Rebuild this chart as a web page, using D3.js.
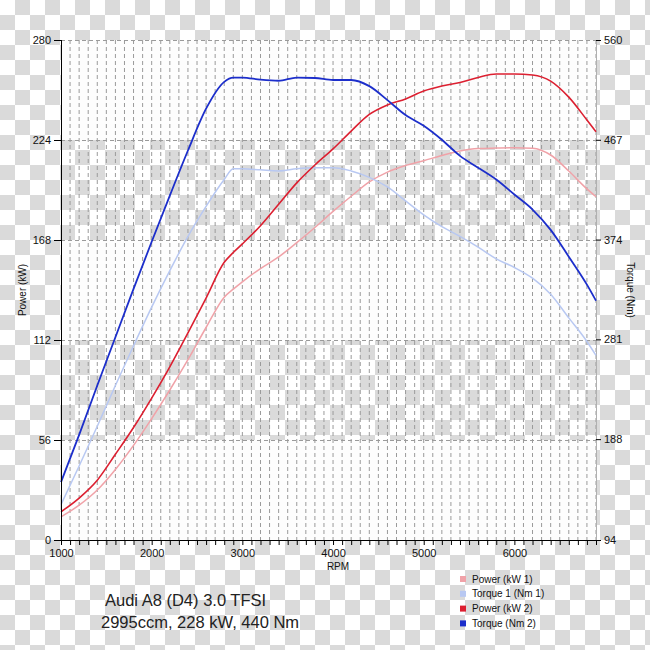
<!DOCTYPE html>
<html>
<head>
<meta charset="utf-8">
<script src="https://cdn.jsdelivr.net/npm/d3@7"></script>
<style>
html,body{margin:0;padding:0;background:#fff;}
svg{display:block;font-family:"Liberation Sans",Arial,sans-serif;}
</style>
</head>
<body>
<svg id="chart" width="650" height="650"></svg>
<script>
const rpm = [1000,1200,1400,1600,1800,2000,2200,2400,2600,2800,2900,3000,3200,3400,3600,3800,4000,4200,4400,4600,4800,5000,5200,5400,5600,5800,6000,6200,6400,6600,6800,6900];
const power1 = [13,19.5,28,39.5,53,68,84,101,119,136,140.5,144.6,152,158.5,166.5,175,184,192.5,200.5,206,209.7,212.4,215.3,217.8,219.2,219.5,219.7,219.4,215.6,206.6,196.6,192.2];
const torque1 = [127,163,200,238,275,311,345,377,405,430,440,440,439,438,440,441,441,438,432,423,410,397,386,377,367,356,348,338,323,301,279,266];
const power2 = [15.8,23.5,33.5,48,63,79.5,97,116,135.5,155.5,161,165.8,176,188,200,210,219,229,238.3,243.6,247,251.4,254.2,256.2,259,261,261,260.4,257,248,235.2,228.6];
const torque2 = [148,192,238,283,328,372,415,457,496,521,525,525,523,522,525,524.6,522.7,522.7,517,504,490,480,467,452,441,430,416,402,383,358,332,317];

const powerTicks = [0,56,112,168,224,280];
const torqueTicks = [94,188,281,374,467,560];
const rpmTicks = [1000,2000,3000,4000,5000,6000];
const legendLabels = ["Power (kW 1)","Torque 1 (Nm 1)","Power (kW 2)","Torque (Nm 2)"];
const titleLines = ["Audi A8 (D4) 3.0 TFSI","2995ccm, 228 kW, 440 Nm"];

const colors = ["#f0a2a8","#b8c8f2","#dc1f30","#1c2ecb"];

const svg = d3.select("#chart");
const L = 61, R = 596, T = 40, B = 540;

// checkerboard background
const defs = svg.append("defs");
const pat = defs.append("pattern").attr("id","checker").attr("patternUnits","userSpaceOnUse")
  .attr("width",30).attr("height",30);
pat.append("rect").attr("width",30).attr("height",30).attr("fill","#ffffff");
pat.append("rect").attr("x",15).attr("y",0).attr("width",15).attr("height",15).attr("fill","#dadada");
pat.append("rect").attr("x",0).attr("y",15).attr("width",15).attr("height",15).attr("fill","#dadada");
svg.append("rect").attr("width",650).attr("height",650).attr("fill","url(#checker)");

const x = d3.scaleLinear().domain([1000,6900]).range([L,R]);
const yP = d3.scaleLinear().domain([0,280]).range([B,T]);
const yT = d3.scaleLinear().domain([94,560]).range([B,T]);

// white bands
[[224,280],[112,168],[0,56]].forEach(b=>{
  svg.append("rect").attr("x",L).attr("y",yP(b[1])).attr("width",R-L).attr("height",yP(b[0])-yP(b[1]))
    .attr("fill","#fdfdfd");
});

// vertical grid every 100 rpm
const vg = d3.range(1100,6901,100);
svg.append("g").selectAll("line").data(vg).join("line")
  .attr("x1",d=>x(d)).attr("x2",d=>x(d)).attr("y1",T).attr("y2",B)
  .attr("stroke","#9a9a9a").attr("stroke-width",1).attr("stroke-dasharray","4,3");
// horizontal grid
svg.append("g").selectAll("line").data(powerTicks.filter(d=>d>0)).join("line")
  .attr("x1",L).attr("x2",R).attr("y1",d=>yP(d)+0.5).attr("y2",d=>yP(d)+0.5)
  .attr("stroke","#9a9a9a").attr("stroke-width",1).attr("stroke-dasharray","4,3");
// right border
svg.append("line").attr("x1",R+0.5).attr("x2",R+0.5).attr("y1",T).attr("y2",B).attr("stroke","#b0b0b0");

// lines
const series = [
  {vals:power1, y:yP, c:colors[0], w:1.5},
  {vals:torque1, y:yT, c:colors[1], w:1.5},
  {vals:power2, y:yP, c:colors[2], w:1.6},
  {vals:torque2, y:yT, c:colors[3], w:1.8}
];
series.forEach(s=>{
  const line = d3.line().x((d,i)=>x(rpm[i])).y(d=>s.y(d)).curve(d3.curveMonotoneX);
  svg.append("path").datum(s.vals).attr("d",line).attr("fill","none")
    .attr("stroke",s.c).attr("stroke-width",s.w).attr("stroke-linejoin","round");
});

// axes
const fontSize = 11;
const axL = svg.append("g").attr("transform",`translate(${L},0)`)
  .call(d3.axisLeft(yP).tickValues(powerTicks).tickSize(7).tickPadding(3));
const axR = svg.append("g").attr("transform",`translate(${R},0)`)
  .call(d3.axisRight(yT).tickValues(torqueTicks).tickSize(5).tickPadding(3));
axR.select(".domain").remove();
const axB = svg.append("g").attr("transform",`translate(0,${B})`)
  .call(d3.axisBottom(x).tickValues(d3.range(1000,6901,100)).tickSize(5).tickPadding(4)
    .tickFormat(d=>rpmTicks.includes(d)?String(d):""));
[axL,axR,axB].forEach(a=>{
  a.selectAll("text").attr("font-size",fontSize).attr("font-family","Liberation Sans, Arial, sans-serif").attr("fill","#111");
  a.selectAll("line").attr("stroke","#000");
  a.select(".domain").attr("stroke","#000");
});
axB.select(".domain").attr("d",`M${L},0.5H${R}`);
axL.select(".domain").attr("d",`M0.5,${T}V${B}`);

// axis titles
svg.append("text").attr("transform",`translate(26,290) rotate(-90)`).attr("text-anchor","middle")
  .attr("font-size",10).attr("fill","#111").text("Power (kW)");
svg.append("text").attr("transform",`translate(627,290) rotate(90)`).attr("text-anchor","middle")
  .attr("font-size",10).attr("fill","#111").text("Torque (Nm)");
svg.append("text").attr("x",338).attr("y",570).attr("text-anchor","middle")
  .attr("font-size",10).attr("fill","#111").text("RPM");

// title
svg.append("text").attr("x",105).attr("y",606).attr("font-size",16.5).attr("fill","#222").text(titleLines[0]);
svg.append("text").attr("x",101).attr("y",628).attr("font-size",16.5).attr("fill","#222").text(titleLines[1]);

// legend
const lg = svg.append("g");
legendLabels.forEach((lab,i)=>{
  const cy = 579 + i*14.8;
  lg.append("rect").attr("x",460).attr("y",cy-3).attr("width",6).attr("height",6).attr("fill",colors[i]);
  lg.append("text").attr("x",472).attr("y",cy+3.5).attr("font-size",10).attr("fill","#111").text(lab);
});
</script>
</body>
</html>
